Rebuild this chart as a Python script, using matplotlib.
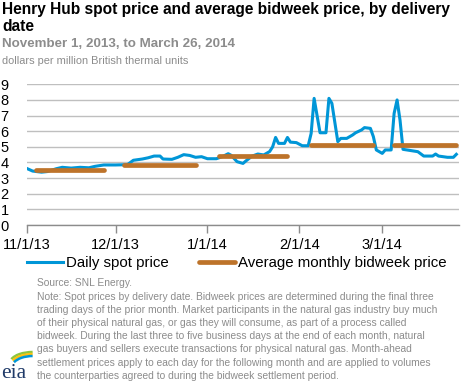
import matplotlib
matplotlib.use("Agg")
import matplotlib.pyplot as plt
from matplotlib.patches import Arc
import pandas as pd

# ---- data ----
spot_dates = ["2013-11-01", "2013-11-03", "2013-11-06", "2013-11-08", "2013-11-11", "2013-11-13",
              "2013-11-16", "2013-11-19", "2013-11-22", "2013-11-24", "2013-11-27", "2013-12-01",
              "2013-12-05", "2013-12-07", "2013-12-10", "2013-12-12", "2013-12-14", "2013-12-16",
              "2013-12-17", "2013-12-20", "2013-12-22", "2013-12-24", "2013-12-26", "2013-12-28",
              "2013-12-30", "2014-01-01", "2014-01-04", "2014-01-06", "2014-01-08", "2014-01-09",
              "2014-01-11", "2014-01-13", "2014-01-14", "2014-01-16", "2014-01-18", "2014-01-20",
              "2014-01-22", "2014-01-23", "2014-01-24", "2014-01-25", "2014-01-27", "2014-01-28",
              "2014-01-29", "2014-01-31", "2014-02-02", "2014-02-04", "2014-02-05", "2014-02-06",
              "2014-02-08", "2014-02-10", "2014-02-11", "2014-02-12", "2014-02-14", "2014-02-15",
              "2014-02-17", "2014-02-19", "2014-02-20", "2014-02-22", "2014-02-23", "2014-02-25",
              "2014-02-26", "2014-02-27", "2014-03-01", "2014-03-02", "2014-03-04", "2014-03-05",
              "2014-03-06", "2014-03-07", "2014-03-08", "2014-03-11", "2014-03-13", "2014-03-15",
              "2014-03-18", "2014-03-19", "2014-03-20", "2014-03-23", "2014-03-25", "2014-03-26"]
spot_values = [3.62, 3.45, 3.38, 3.42, 3.60, 3.69,
               3.64, 3.69, 3.66, 3.75, 3.84, 3.84,
               3.86, 4.14, 4.22, 4.30, 4.41, 4.41,
               4.22, 4.20, 4.33, 4.50, 4.45, 4.33,
               4.37, 4.24, 4.24, 4.37, 4.56, 4.46,
               4.05, 3.94, 4.10, 4.40, 4.54, 4.48,
               4.70, 5.00, 5.60, 5.22, 5.22, 5.60,
               5.30, 5.27, 5.07, 5.07, 5.86, 8.10,
               5.90, 5.90, 8.10, 7.78, 5.33, 5.54,
               5.54, 5.76, 5.90, 6.08, 6.23, 6.18,
               5.65, 4.80, 4.58, 4.80, 4.80, 7.14,
               8.00, 6.70, 4.84, 4.75, 4.69, 4.41,
               4.41, 4.54, 4.41, 4.33, 4.33, 4.52]

bid_starts = ["2013-11-04", "2013-12-04", "2014-01-05", "2014-02-05", "2014-03-05"]
bid_ends = ["2013-11-27", "2013-12-28", "2014-01-28", "2014-02-26", "2014-03-26"]
bid_values = [3.55, 3.82, 4.40, 5.10, 5.12]

x_ticks = ["2013-11-01", "2013-12-01", "2014-01-01", "2014-02-01", "2014-03-01"]
x_labels = ["11/1/13", "12/1/13", "1/1/14", "2/1/14", "3/1/14"]
y_ticks = list(range(0, 10))

title = "Henry Hub spot price and average bidweek price, by delivery\ndate"
subtitle = "November 1, 2013, to March 26, 2014"
units = "dollars per million British thermal units"
source = "Source: SNL Energy."
note_lines = [
    "Note: Spot prices by delivery date. Bidweek prices are determined during the final three",
    "trading days of the prior month. Market participants in the natural gas industry buy much",
    "of their physical natural gas, or gas they will consume, as part of a process called",
    "bidweek. During the last three to five business days at the end of each month, natural",
    "gas buyers and sellers execute transactions for physical natural gas. Month-ahead",
    "settlement prices apply to each day for the following month and are applied to volumes",
    "the counterparties agreed to during the bidweek settlement period.",
]

BLUE = "#0096D7"
BROWN = "#BD732A"
GRID = "#BFBFBF"
GRAY_TXT = "#8C8C8C"

plt.rcParams["font.family"] = ["Liberation Sans", "DejaVu Sans"]

W, H = 468, 382
fig = plt.figure(figsize=(W / 100, H / 100), dpi=100)

def fx(px):
    return px / W

def fy(py):
    return 1 - py / H

ax = fig.add_axes([fx(26.7), fy(225), fx(459.3) - fx(26.7), fy(84.3) - fy(225)])

sd = pd.to_datetime(spot_dates)
ax.plot(sd, spot_values, color=BLUE, lw=2.2, solid_joinstyle="round", zorder=3,
        label="Daily spot price")
for i, (s, e, v) in enumerate(zip(bid_starts, bid_ends, bid_values)):
    ax.plot(pd.to_datetime([s, e]), [v, v], color=BROWN, lw=3.4, solid_capstyle="round",
            zorder=4, label="Average monthly bidweek price" if i == 0 else None)

ax.set_xlim(pd.Timestamp("2013-11-01"), pd.Timestamp("2014-03-27"))
ax.set_ylim(0, 9)
ax.set_yticks(y_ticks)
ax.set_yticklabels([str(t) for t in y_ticks], fontsize=10.5)
ax.set_xticks(pd.to_datetime(x_ticks))
ax.set_xticklabels(x_labels, fontsize=10.5)
ax.grid(axis="y", color=GRID, lw=1.0)
ax.set_axisbelow(True)
for s in ["left", "right", "top"]:
    ax.spines[s].set_visible(False)
ax.spines["bottom"].set_color("#8C8C8C")
ax.spines["bottom"].set_linewidth(1.0)
ax.tick_params(axis="y", length=0, pad=13)
ax.tick_params(axis="x", length=6, width=1.0, color="#8C8C8C", direction="out", pad=3)

# titles
fig.text(fx(2), fy(2), title, fontsize=11.2, fontweight="bold", color="black",
         va="top", ha="left", linespacing=1.16)
fig.text(fx(2), fy(47), subtitle, fontsize=9.6, fontweight="bold", color=GRAY_TXT,
         va="baseline", ha="left")
fig.text(fx(2), fy(64), units, fontsize=7.9, color=GRAY_TXT, va="baseline", ha="left")

# legend
handles, labels = ax.get_legend_handles_labels()
fig.legend(handles, labels, loc="center", bbox_to_anchor=(fx(237), fy(263)), ncol=2,
           frameon=False, fontsize=10.8, handlelength=2.4, handletextpad=0.2,
           columnspacing=2.0, borderpad=0, borderaxespad=0)

# source + note
fig.text(fx(37), fy(283), source, fontsize=7.4, color=GRAY_TXT, va="center", ha="left")
for i, line in enumerate(note_lines):
    fig.text(fx(37), fy(296.5 + i * 13.2), line, fontsize=7.4, color=GRAY_TXT,
             va="center", ha="left")

# eia logo
lax = fig.add_axes([0, 0, fx(36), 1 - fy(40)])
lax.set_xlim(0, 36)
lax.set_ylim(40, 0)
lax.axis("off")
lax.add_patch(Arc((33, 21), 46, 22, theta1=190, theta2=268, color="#8DC63F", lw=1.8))
lax.add_patch(Arc((33, 23), 44, 22, theta1=192, theta2=268, color="#FFC20E", lw=1.8))
lax.add_patch(Arc((33, 25), 42, 22, theta1=194, theta2=268, color="#0096D7", lw=1.8))
lax.text(1, 36.5, "eia", fontsize=15.5, family=["Liberation Serif", "DejaVu Serif"],
         color="#1F3A68", va="baseline", ha="left")

fig.savefig("out.png", dpi=100)
